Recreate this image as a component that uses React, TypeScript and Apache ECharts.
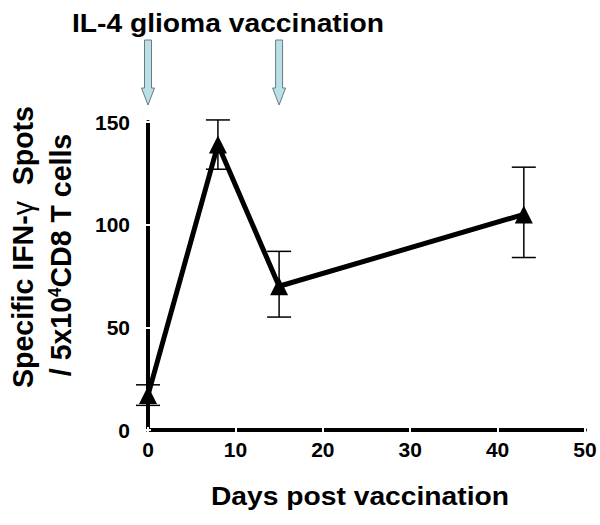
import React, { useEffect, useRef } from 'react';
import * as echarts from 'echarts';

const days = [0, 8, 15, 43];
const spots = [17, 139, 70, 105];
const errLow = [12, 127, 55, 84];
const errHigh = [22, 151, 87, 128];
const vaccinationDays = [0, 15];
const xRange = [0, 50, 10];
const yRange = [0, 150, 50];

const titleText = 'IL-4 glioma vaccination';
const xAxisTitle = 'Days post vaccination';

const FONT = '"Liberation Sans", Arial, sans-serif';

export default function App() {
  const ref = useRef<HTMLDivElement>(null);
  useEffect(() => {
    if (!ref.current) return;
    const chart = echarts.init(ref.current, undefined, { renderer: 'svg' });
    const lineData = days.map((d, i) => [d, spots[i]]);
    const errData = days.map((d, i) => [d, errLow[i], errHigh[i]]);
    const arrowData = vaccinationDays.map((d) => [d, yRange[1]]);

    const baseX = {
      type: 'value' as const,
      min: xRange[0],
      max: xRange[1],
      interval: xRange[2],
      position: 'bottom' as const,
      splitLine: { show: false },
    };
    const baseY = {
      type: 'value' as const,
      min: yRange[0],
      max: yRange[1],
      interval: yRange[2],
      position: 'left' as const,
      splitLine: { show: false },
    };

    chart.setOption({
      animation: false,
      backgroundColor: '#ffffff',
      grid: { left: 148, right: 15, top: 122, bottom: 95 },
      xAxis: [
        {
          ...baseX,
          axisLine: { show: true, lineStyle: { color: '#000', width: 4 } },
          axisTick: { show: true, inside: false, length: 3, lineStyle: { color: '#fff', width: 2 } },
          axisLabel: { color: '#000', fontFamily: FONT, fontWeight: 'bold', fontSize: 21, margin: 9 },
        },
        {
          ...baseX,
          axisLine: { show: false },
          axisTick: { show: true, inside: true, length: 3, lineStyle: { color: '#fff', width: 2 } },
          axisLabel: { show: false },
        },
      ],
      yAxis: [
        {
          ...baseY,
          axisLine: { show: true, lineStyle: { color: '#000', width: 4 } },
          axisTick: { show: true, inside: false, length: 3, lineStyle: { color: '#fff', width: 2 } },
          axisLabel: { color: '#000', fontFamily: FONT, fontWeight: 'bold', fontSize: 21, margin: 18 },
        },
        {
          ...baseY,
          axisLine: { show: false },
          axisTick: { show: true, inside: true, length: 3, lineStyle: { color: '#fff', width: 2 } },
          axisLabel: { show: false },
        },
      ],
      series: [
        {
          type: 'custom',
          name: 'arrows',
          xAxisIndex: 0,
          yAxisIndex: 0,
          clip: false,
          data: arrowData,
          renderItem: (params: any, api: any) => {
            const p = api.coord([api.value(0), api.value(1)]);
            const x = p[0];
            const y = p[1];
            return {
              type: 'polygon',
              shape: {
                points: [
                  [x - 3.5, y - 82],
                  [x + 3.5, y - 82],
                  [x + 3.5, y - 34],
                  [x + 6.5, y - 34],
                  [x, y - 17],
                  [x - 6.5, y - 34],
                  [x - 3.5, y - 34],
                ],
              },
              style: { fill: '#b8e0e6', stroke: '#6b7b80', lineWidth: 1 },
            };
          },
          z: 1,
        },
        {
          type: 'custom',
          name: 'error',
          xAxisIndex: 0,
          yAxisIndex: 0,
          data: errData,
          clip: false,
          renderItem: (params: any, api: any) => {
            const lo = api.coord([api.value(0), api.value(1)]);
            const hi = api.coord([api.value(0), api.value(2)]);
            const hw = 12;
            const st = { stroke: '#000', lineWidth: 1.5 };
            return {
              type: 'group',
              children: [
                { type: 'line', shape: { x1: lo[0], y1: lo[1], x2: hi[0], y2: hi[1] }, style: st },
                { type: 'line', shape: { x1: lo[0] - hw, y1: lo[1], x2: lo[0] + hw, y2: lo[1] }, style: st },
                { type: 'line', shape: { x1: hi[0] - hw, y1: hi[1], x2: hi[0] + hw, y2: hi[1] }, style: st },
              ],
            };
          },
          z: 2,
        },
        {
          type: 'line',
          name: 'IFN-γ spots',
          xAxisIndex: 0,
          yAxisIndex: 0,
          data: lineData,
          symbol: 'triangle',
          symbolSize: 18,
          lineStyle: { color: '#000', width: 5 },
          itemStyle: { color: '#000' },
          z: 3,
        },
      ],
      graphic: [
        {
          type: 'text',
          x: 228,
          y: 24,
          scaleX: 1.13,
          style: {
            text: titleText,
            font: `bold 25px ${FONT}`,
            fill: '#000',
            align: 'center',
            verticalAlign: 'middle',
          },
        },
        {
          type: 'text',
          x: 360,
          y: 497,
          scaleX: 1.13,
          style: {
            text: xAxisTitle,
            font: `bold 25px ${FONT}`,
            fill: '#000',
            align: 'center',
            verticalAlign: 'middle',
          },
        },
        {
          type: 'text',
          x: 23,
          y: 247,
          rotation: Math.PI / 2,
          scaleY: 1.05,
          style: {
            text: 'Specific IFN-{g|γ}  Spots',
            fontFamily: FONT,
            fontWeight: 'bold',
            fontSize: 28.5,
            fill: '#000',
            align: 'center',
            verticalAlign: 'middle',
            rich: {
              g: { fontFamily: FONT, fontWeight: 'normal', fontSize: 28.5, fill: '#000' },
            },
          },
        },
        {
          type: 'text',
          x: 61,
          y: 255,
          rotation: Math.PI / 2,
          scaleY: 1.05,
          style: {
            text: '/ 5x10{s|4}CD8 T cells',
            fontFamily: FONT,
            fontWeight: 'bold',
            fontSize: 28.5,
            fill: '#000',
            align: 'center',
            verticalAlign: 'middle',
            rich: {
              s: { fontFamily: FONT, fontWeight: 'bold', fontSize: 17, fill: '#000', verticalAlign: 'top' },
            },
          },
        },
      ],
    });
    return () => chart.dispose();
  }, []);
  return (
    <div
      ref={ref}
      style={{ position: 'fixed', left: 0, top: 0, width: 600, height: 525, background: '#fff' }}
    />
  );
}
